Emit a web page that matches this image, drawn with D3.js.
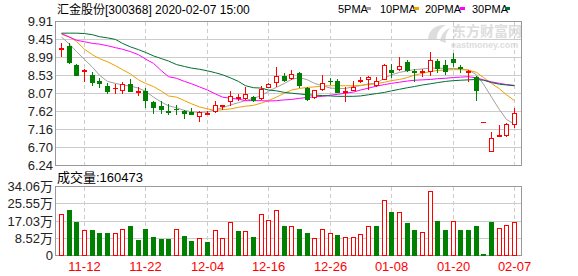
<!DOCTYPE html>
<html>
<head>
<meta charset="utf-8">
<script src="https://cdn.jsdelivr.net/npm/d3@7/dist/d3.min.js"></script>
<style>
  body { margin: 0; background: #fff; }
  text { font-family: "Liberation Sans", Arial, "Noto Sans CJK SC", sans-serif; }
</style>
</head>
<body>
<div id="chart"></div>
<script>
// trading days shown (11-07 .. 02-07)
let dates = ["11-07","11-08","11-11","11-12","11-13","11-14","11-15","11-18","11-19","11-20",
  "11-21","11-22","11-25","11-26","11-27","11-28","11-29","12-02","12-03","12-04",
  "12-05","12-06","12-09","12-10","12-11","12-12","12-13","12-16","12-17","12-18",
  "12-19","12-20","12-23","12-24","12-25","12-26","12-27","12-30","12-31","01-02",
  "01-03","01-06","01-07","01-08","01-09","01-10","01-13","01-14","01-15","01-16",
  "01-17","01-20","01-21","01-22","01-23","02-03","02-04","02-05","02-06","02-07"];

let open = [9.20,9.28,8.80,8.63,8.54,8.39,8.25,8.19,8.16,8.315,
  8.10,8.12,7.84,7.74,7.61,7.67,7.61,7.59,7.48,7.55,
  7.62,7.75,7.86,7.95,7.95,7.97,7.95,8.23,8.36,8.51,
  8.46,8.58,8.20,7.97,8.18,8.39,8.37,8.10,8.16,8.37,
  8.43,8.28,8.43,8.66,8.69,8.87,8.63,8.62,8.645,8.88,
  8.80,8.94,8.73,8.60,8.475,7.33,6.60,6.98,7.00,7.28];
let high = [9.36,9.34,8.81,8.69,8.60,8.45,8.34,8.31,8.35,8.42,
  8.22,8.21,7.88,7.87,7.80,7.76,7.63,7.70,7.61,7.61,
  7.86,7.78,8.12,8.04,8.24,8.00,8.26,8.32,8.745,8.58,
  8.66,8.60,8.24,8.16,8.53,8.45,8.43,8.22,8.39,8.475,
  8.52,8.49,8.81,8.81,8.99,8.91,8.69,8.69,9.13,8.94,
  8.92,9.09,8.80,8.67,8.52,7.33,7.08,7.25,7.31,7.69];
let low = [9.02,8.83,8.53,8.39,8.28,8.22,8.07,8.07,8.07,8.12,
  8.03,7.72,7.57,7.57,7.55,7.53,7.44,7.55,7.36,7.53,
  7.59,7.665,7.78,7.885,7.92,7.87,7.93,8.23,8.26,8.37,
  8.425,8.22,7.89,7.94,8.15,8.30,8.10,7.86,8.155,8.35,
  8.18,8.26,8.42,8.475,8.66,8.645,8.37,8.52,8.54,8.62,
  8.56,8.77,8.62,8.39,7.90,7.33,6.60,6.97,6.99,7.21];
let close = [9.22,8.87,8.54,8.65,8.35,8.33,8.13,8.21,8.31,8.13,
  8.12,7.90,7.72,7.67,7.59,7.66,7.56,7.55,7.59,7.565,
  7.76,7.78,8.00,7.97,8.04,7.885,8.18,8.315,8.52,8.41,
  8.56,8.28,7.91,8.16,8.33,8.37,8.11,8.12,8.24,8.41,
  8.475,8.37,8.80,8.62,8.77,8.67,8.61,8.645,8.92,8.70,
  8.645,8.87,8.71,8.645,8.14,7.33,6.93,7.00,7.28,7.57];

// volume in 万 (10k)
let volume = [20.4,22.4,16.1,12.4,12.4,11.1,11.1,10.8,12.8,14.4,
  7.5,12.9,8.8,8.0,8.0,12.8,9.4,7.0,8.3,6.5,
  12.4,8.3,16.4,11.9,11.9,8.9,20.4,17.4,22.4,14.4,
  14.4,12.9,11.1,8.3,12.8,10.8,9.9,8.8,8.8,10.4,
  14.4,14.4,27.3,21.0,21.0,15.6,12.4,11.4,31.8,16.6,
  12.1,16.9,12.4,12.1,14.4,0.5,16.4,13.4,14.7,16.05];

let ma5 = [9.50,9.32,9.13,8.93,8.73,8.53,8.37,8.32,8.28,8.25,
  8.20,8.12,7.97,7.84,7.75,7.70,7.63,7.60,7.58,7.59,
  7.65,7.70,7.77,7.83,7.88,7.94,8.01,8.12,8.22,8.32,
  8.42,8.47,8.41,8.32,8.26,8.20,8.19,8.19,8.24,8.26,
  8.31,8.32,8.46,8.54,8.60,8.64,8.67,8.69,8.71,8.71,
  8.70,8.70,8.69,8.66,8.54,8.30,7.97,7.65,7.40,7.28];
let ma10 = [9.57,9.50,9.39,9.19,9.05,8.95,8.87,8.77,8.67,8.56,
  8.41,8.32,8.24,8.12,8.00,7.97,7.88,7.80,7.72,7.67,
  7.63,7.65,7.67,7.71,7.74,7.76,7.82,7.88,7.97,8.07,
  8.15,8.19,8.22,8.23,8.25,8.26,8.26,8.26,8.26,8.27,
  8.29,8.31,8.35,8.39,8.42,8.47,8.53,8.58,8.62,8.65,
  8.66,8.67,8.67,8.66,8.60,8.47,8.32,8.18,8.03,7.88];
let ma20 = [9.59,9.50,9.42,9.38,9.34,9.32,9.28,9.23,9.19,9.13,
  9.05,8.94,8.83,8.64,8.49,8.45,8.37,8.31,8.23,8.15,
  8.05,7.97,7.94,7.92,7.88,7.88,7.88,7.87,7.88,7.90,
  7.91,7.94,7.96,7.98,7.99,8.02,8.04,8.07,8.10,8.15,
  8.20,8.25,8.29,8.32,8.35,8.38,8.40,8.41,8.42,8.44,
  8.45,8.47,8.48,8.49,8.46,8.41,8.36,8.32,8.29,8.27];
let ma30 = [9.60,9.60,9.60,9.59,9.56,9.51,9.48,9.44,9.34,9.25,
  9.18,9.11,9.02,8.95,8.89,8.80,8.75,8.71,8.68,8.64,
  8.59,8.54,8.46,8.37,8.26,8.21,8.20,8.15,8.13,8.09,
  8.07,8.05,8.03,8.02,8.01,8.00,7.99,7.99,7.99,8.00,
  8.03,8.06,8.09,8.13,8.17,8.21,8.24,8.28,8.31,8.34,
  8.37,8.39,8.40,8.41,8.42,8.40,8.34,8.30,8.28,8.26];

let priceTicks = [6.24,6.70,7.16,7.62,8.07,8.53,8.99,9.45,9.91];
let volTicks = [0, 8.52, 17.03, 25.55, 34.06];
let volTickLabels = ["0","8.52万","17.03万","25.55万","34.06万"];
let dateTicks = ["11-12","11-22","12-04","12-16","12-26","01-08","01-20","02-07"];

let maNames = ["5PMA","10PMA","20PMA","30PMA"];
let maColors = ["#a0a0a0","#f0a000","#ff00ff","#006f33"];

let svgWidth = 578;
let svgHeight = 276;
let red = "#ff0000";
let green = "#008000";
let gridColor = "#cccccc";
let borderColor = "#999999";

let svg = d3.select("#chart")
    .append("svg")
    .attr("width", svgWidth)
    .attr("height", svgHeight);

// scales
let x = d3.scaleBand().domain(dates).range([57, 518]);
let cx = d => Math.round(x(d) + x.bandwidth() / 2);
let y = d3.scaleLinear().domain([6.24, 9.91]).range([165, 21]);
let yv = d3.scaleLinear().domain([0, 34.06]).range([255, 186]);

let rows = dates.map((d, i) => ({
    date: d, o: open[i], h: high[i], l: low[i], c: close[i], v: volume[i],
    up: close[i] >= open[i],
    volUp: i === 0 ? close[i] >= open[i] : close[i] >= close[i - 1]
}));

// title + legend
svg.append("text")
    .attr("x", 57).attr("y", 13.5)
    .attr("font-size", 12)
    .text("汇金股份[300368] 2020-02-07 15:00");

let legendX = [338, 380, 425, 472];
let legendSq = [366, 414, 460, 505];
maNames.forEach((n, i) => {
    svg.append("text")
        .attr("x", legendX[i]).attr("y", 13)
        .attr("font-size", 11)
        .text(n);
    svg.append("rect")
        .attr("x", legendSq[i]).attr("y", 7)
        .attr("width", 5).attr("height", 3)
        .attr("fill", maColors[i]);
});

// watermark
let wm = svg.append("g").attr("opacity", 0.6);
wm.append("path")
    .attr("d", "M428,40 C428,30 436,24 446,25 C440,28 436,33 437,40 Z M440,41 C441,34 446,29 450,28 C446,33 445,38 446,43 Z")
    .attr("fill", "#c8c8c8");
wm.append("text")
    .attr("x", 452).attr("y", 36)
    .attr("font-size", 14).attr("font-weight", "bold")
    .attr("fill", "#c8c8c8")
    .text("东方财富网");
wm.append("text")
    .attr("x", 451).attr("y", 48)
    .attr("font-size", 9).attr("font-weight", "bold")
    .attr("fill", "#c8c8c8")
    .text("eastmoney.com");

// ---- price panel ----
let priceAxis = svg.append("g")
    .attr("transform", "translate(56,0)")
    .call(d3.axisLeft(y).tickValues(priceTicks).tickSize(-466).tickPadding(4).tickFormat(d3.format(".2f")));
priceAxis.select(".domain").remove();
priceAxis.selectAll("line").attr("stroke", gridColor);
priceAxis.selectAll(".tick")
    .attr("transform", d => `translate(0,${Math.round(y(d)) + 0.5})`);
priceAxis.selectAll("text").attr("font-size", 13).attr("fill", "#222").attr("x", -3);

// vertical dashed date lines
dateTicks.forEach(d => {
    let xx = cx(d) + 0.5;
    svg.append("line").attr("x1", xx).attr("x2", xx).attr("y1", 22).attr("y2", 165)
        .attr("stroke", gridColor).attr("stroke-dasharray", "4,3");
    svg.append("line").attr("x1", xx).attr("x2", xx).attr("y1", 187).attr("y2", 255)
        .attr("stroke", gridColor).attr("stroke-dasharray", "4,3");
    svg.append("text")
        .attr("x", xx).attr("y", 271)
        .attr("text-anchor", "middle")
        .attr("font-size", 13)
        .attr("fill", red)
        .text(d);
});

svg.append("rect")
    .attr("x", 55.5).attr("y", 21.5)
    .attr("width", 466).attr("height", 144)
    .attr("fill", "none").attr("stroke", borderColor);

// moving averages
let maData = [ma5, ma10, ma20, ma30];
maData.forEach((arr, k) => {
    let line = d3.line()
        .x((v, i) => cx(dates[i]) + 0.5)
        .y(v => y(v));
    svg.append("path")
        .attr("d", line(arr))
        .attr("fill", "none")
        .attr("stroke", maColors[k])
        .attr("stroke-width", 1);
});

// candles
let candles = svg.append("g").selectAll("g")
    .data(rows)
    .enter()
    .append("g");

candles.each(function(d) {
    let g = d3.select(this);
    let x0 = cx(d.date);
    let col = d.up ? red : green;
    let top = Math.round(y(Math.max(d.o, d.c)));
    let bot = Math.round(y(Math.min(d.o, d.c)));
    let hi = Math.round(y(d.h));
    let lo = Math.round(y(d.l));
    if (d.up && bot - top >= 2) {
        if (hi < top) g.append("line").attr("x1", x0 + 0.5).attr("x2", x0 + 0.5).attr("y1", hi).attr("y2", top).attr("stroke", col);
        if (lo > bot) g.append("line").attr("x1", x0 + 0.5).attr("x2", x0 + 0.5).attr("y1", bot + 1).attr("y2", lo + 1).attr("stroke", col);
        g.append("rect")
            .attr("x", x0 - 1.5).attr("y", top + 0.5)
            .attr("width", 4).attr("height", bot - top)
            .attr("fill", "#fff").attr("stroke", col);
    } else {
        g.append("line").attr("x1", x0 + 0.5).attr("x2", x0 + 0.5).attr("y1", hi).attr("y2", lo + 1).attr("stroke", col);
        g.append("rect")
            .attr("x", x0 - 2).attr("y", top)
            .attr("width", 5).attr("height", Math.max(1, bot - top + 1))
            .attr("fill", col);
    }
});

// ---- volume panel ----
svg.append("text")
    .attr("x", 57).attr("y", 182)
    .attr("font-size", 13)
    .text("成交量:160473");

volTicks.forEach((t, i) => {
    let yy = Math.round(yv(t)) + 0.5;
    if (i > 0 && i < volTicks.length - 1) {
        svg.append("line").attr("x1", 56).attr("x2", 522).attr("y1", yy).attr("y2", yy)
            .attr("stroke", gridColor);
    }
    svg.append("text")
        .attr("x", 53).attr("y", yy)
        .attr("dy", "0.35em")
        .attr("text-anchor", "end")
        .attr("font-size", 13)
        .attr("fill", "#222")
        .text(volTickLabels[i]);
});

svg.append("rect")
    .attr("x", 55.5).attr("y", 186.5)
    .attr("width", 466).attr("height", 69)
    .attr("fill", "none").attr("stroke", borderColor);

let bars = svg.append("g").selectAll("g")
    .data(rows)
    .enter()
    .append("g");

bars.each(function(d) {
    let g = d3.select(this);
    let x0 = cx(d.date);
    let top = Math.round(yv(d.v));
    if (d.volUp) {
        g.append("rect")
            .attr("x", x0 - 1.5).attr("y", top + 0.5)
            .attr("width", 4).attr("height", 255 - top)
            .attr("fill", "#fff").attr("stroke", red);
    } else {
        g.append("rect")
            .attr("x", x0 - 2).attr("y", top)
            .attr("width", 5).attr("height", Math.max(1, 256 - top))
            .attr("fill", green);
    }
});
</script>
</body>
</html>
